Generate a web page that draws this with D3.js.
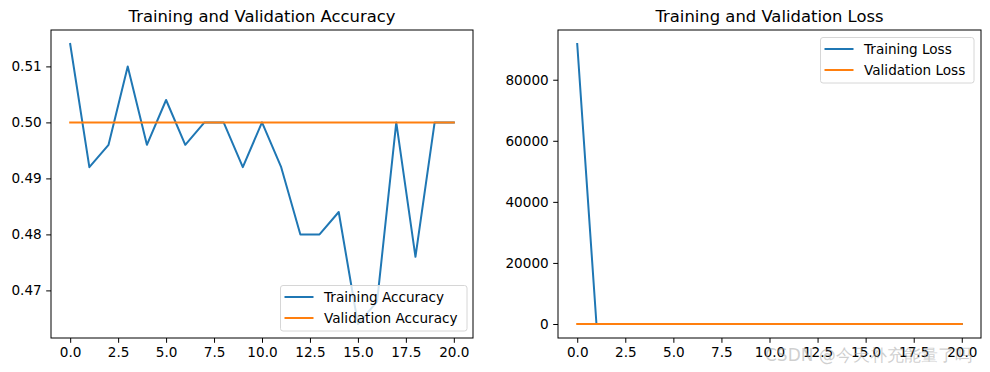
<!DOCTYPE html>
<html lang="en">
<head>
<meta charset="utf-8">
<title>Training and Validation</title>
<script src="https://cdn.jsdelivr.net/npm/d3@7"></script>
<style>
  body { margin: 0; background: #fff; }
  svg text { font-family: "DejaVu Sans", sans-serif; fill: #000; }
</style>
</head>
<body>
<div id="chart"></div>
<script>
// epochs 0..20
const epochs = [0,1,2,3,4,5,6,7,8,9,10,11,12,13,14,15,16,17,18,19,20];
const trainAcc = [0.514,0.492,0.496,0.510,0.496,0.504,0.496,0.500,0.500,0.492,0.500,0.492,0.480,0.480,0.484,0.464,0.468,0.500,0.476,0.500,0.500];
const valAcc = [0.500,0.500,0.500,0.500,0.500,0.500,0.500,0.500,0.500,0.500,0.500,0.500,0.500,0.500,0.500,0.500,0.500,0.500,0.500,0.500,0.500];
const trainLoss = [91700,0.693,0.693,0.693,0.693,0.693,0.693,0.693,0.693,0.693,0.693,0.693,0.693,0.693,0.693,0.693,0.693,0.693,0.693,0.693,0.693];
const valLoss = [0.693,0.693,0.693,0.693,0.693,0.693,0.693,0.693,0.693,0.693,0.693,0.693,0.693,0.693,0.693,0.693,0.693,0.693,0.693,0.693,0.693];
const xTicks = [0,2.5,5,7.5,10,12.5,15,17.5,20];
const accTicks = [0.47,0.48,0.49,0.50,0.51];
const lossTicks = [0,20000,40000,60000,80000];

const blue = "#1f77b4", orange = "#ff7f0e";
const W = 990, H = 372;
const fs = 13.6;   // tick + legend text
const tick = 4.8;

const svg = d3.select("#chart").append("svg")
  .attr("width", W).attr("height", H);

// pad a range by 5% like matplotlib does
function padded(vals) {
  const [lo, hi] = d3.extent(vals);
  const p = (hi - lo) * 0.05;
  return [lo - p, hi + p];
}

function panel(opts) {
  const g = svg.append("g");
  const x = d3.scaleLinear().domain(padded(epochs)).range([opts.left, opts.right]);
  const y = d3.scaleLinear().domain(padded(opts.series[0].values.concat(opts.series[1].values)))
    .range([opts.bottom, opts.top]);

  const xa = g.append("g").attr("transform", `translate(0,${opts.bottom})`)
    .call(d3.axisBottom(x).tickValues(xTicks).tickFormat(d3.format(".1f")).tickSize(tick).tickPadding(4.5));
  const ya = g.append("g").attr("transform", `translate(${opts.left},0)`)
    .call(d3.axisLeft(y).tickValues(opts.yTicks).tickFormat(opts.yFmt).tickSize(tick).tickPadding(4.5));
  [xa, ya].forEach(a => {
    a.select(".domain").remove();
    a.selectAll("line").attr("stroke", "#000").attr("stroke-width", 1);
    a.selectAll("text").attr("font-size", fs).attr("fill", "#000");
  });

  const line = d3.line().x((d, i) => x(epochs[i])).y(d => y(d));
  opts.series.forEach(s => {
    g.append("path").datum(s.values)
      .attr("d", line).attr("fill", "none")
      .attr("stroke", s.color).attr("stroke-width", 2)
      .attr("stroke-linejoin", "round").attr("stroke-linecap", "square");
  });

  g.append("rect")
    .attr("x", opts.left).attr("y", opts.top)
    .attr("width", opts.right - opts.left).attr("height", opts.bottom - opts.top)
    .attr("fill", "none").attr("stroke", "#000").attr("stroke-width", 1);

  g.append("text")
    .attr("x", (opts.left + opts.right) / 2).attr("y", opts.top - 8)
    .attr("text-anchor", "middle").attr("font-size", 16.4)
    .text(opts.title);

  // legend
  const lg = g.append("g").attr("transform", `translate(${opts.legend.x},${opts.legend.y})`);
  lg.append("rect")
    .attr("x", 0).attr("y", 0).attr("width", opts.legend.w).attr("height", 45.5)
    .attr("rx", 2.5).attr("fill", "#fff").attr("fill-opacity", 0.8)
    .attr("stroke", "#d6d6d6").attr("stroke-width", 1);
  opts.series.forEach((s, i) => {
    const cy = 11.5 + i * 21;
    lg.append("line").attr("x1", 4).attr("x2", 33).attr("y1", cy).attr("y2", cy)
      .attr("stroke", s.color).attr("stroke-width", 2);
    lg.append("text").attr("x", 43.5).attr("y", cy).attr("dy", "0.35em")
      .attr("font-size", fs).text(s.name);
  });
}

panel({
  left: 51, right: 473, top: 30, bottom: 338,
  title: "Training and Validation Accuracy",
  yTicks: accTicks, yFmt: d3.format(".2f"),
  series: [
    { name: "Training Accuracy", values: trainAcc, color: blue },
    { name: "Validation Accuracy", values: valAcc, color: orange }
  ],
  legend: { x: 280.5, y: 285.5, w: 186.5 }
});

panel({
  left: 558, right: 981, top: 30, bottom: 338,
  title: "Training and Validation Loss",
  yTicks: lossTicks, yFmt: d3.format("d"),
  series: [
    { name: "Training Loss", values: trainLoss, color: blue },
    { name: "Validation Loss", values: valLoss, color: orange }
  ],
  legend: { x: 820.5, y: 37.5, w: 153.5 }
});

// watermark
svg.append("text")
  .attr("x", 765).attr("y", 361)
  .attr("font-family", "'Noto Sans CJK SC', sans-serif")
  .attr("font-size", 17)
  .style("fill", "rgba(160,160,160,0.5)")
  .text("CSDN @今天补充能量了吗");
</script>
</body>
</html>
